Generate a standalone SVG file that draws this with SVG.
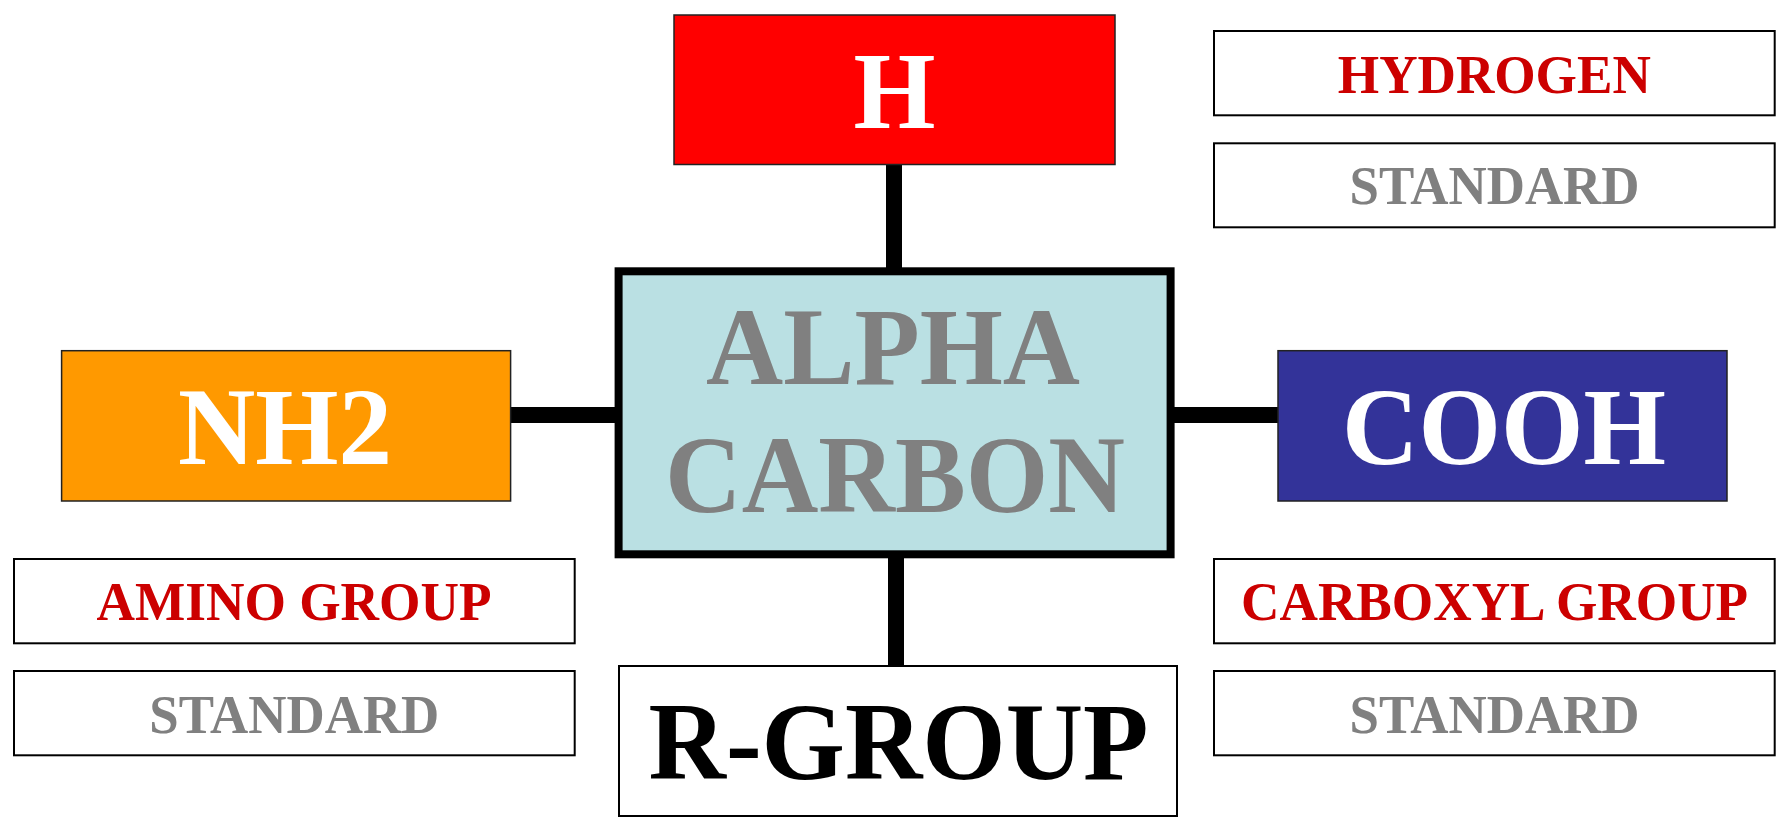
<svg xmlns="http://www.w3.org/2000/svg" width="1787" height="822" viewBox="0 0 1787 822">
<style>
text{font-family:"Liberation Serif","Times New Roman",serif;font-weight:bold;text-anchor:middle}
.big{font-size:111px}
.small{font-size:55px}
.red{fill:#CC0000}
.grey{fill:#808080}
.white{fill:#FFFFFF}
.lbl{fill:#FFFFFF;stroke:#000;stroke-width:2}
.conn{stroke:#000;stroke-width:16;fill:none}
</style>
<rect width="1787" height="822" fill="#FFFFFF"/>
<g id="connectors">
<line class="conn" x1="894" y1="164" x2="894" y2="272"/>
<line class="conn" x1="896" y1="554" x2="896" y2="666"/>
<line class="conn" x1="510" y1="415" x2="619" y2="415"/>
<line class="conn" x1="1170" y1="415" x2="1278" y2="415"/>
</g>
<g id="node-h">
<rect x="674" y="15" width="441" height="149.5" fill="#FF0000" stroke="#222" stroke-width="1.5"/>
<text class="big white" x="894.5" y="127.5" textLength="82" lengthAdjust="spacingAndGlyphs">H</text>
</g>
<g id="node-alpha">
<rect x="618.6" y="271.3" width="552" height="283" fill="#BAE0E3" stroke="#000" stroke-width="8"/>
<text class="big grey" x="893" y="384" textLength="374" lengthAdjust="spacingAndGlyphs">ALPHA</text>
<text class="big grey" x="895" y="512" textLength="460" lengthAdjust="spacingAndGlyphs">CARBON</text>
</g>
<g id="node-nh2">
<rect x="61.6" y="350.7" width="449" height="150.3" fill="#FF9900" stroke="#222" stroke-width="1.5"/>
<text class="big white" x="285" y="464" textLength="214" lengthAdjust="spacingAndGlyphs">NH2</text>
</g>
<g id="node-cooh">
<rect x="1278" y="350.7" width="449" height="150.3" fill="#333399" stroke="#222" stroke-width="1.5"/>
<text class="big white" x="1504" y="464" textLength="324" lengthAdjust="spacingAndGlyphs">COOH</text>
</g>
<g id="node-rgroup">
<rect x="619" y="666" width="558" height="150" fill="#FFFFFF" stroke="#000" stroke-width="2"/>
<text class="big" x="898.5" y="779" fill="#000" textLength="500" lengthAdjust="spacingAndGlyphs">R-GROUP</text>
</g>
<g id="label-hydrogen">
<rect class="lbl" x="1214" y="31" width="560.7" height="84.3"/>
<text class="small red" x="1494.3" y="92.7" textLength="313" lengthAdjust="spacingAndGlyphs">HYDROGEN</text>
</g>
<g id="label-standard-top">
<rect class="lbl" x="1214" y="143.3" width="560.7" height="84"/>
<text class="small grey" x="1494.5" y="204" textLength="290" lengthAdjust="spacingAndGlyphs">STANDARD</text>
</g>
<g id="label-amino">
<rect class="lbl" x="14" y="559" width="560.7" height="84.3"/>
<text class="small red" x="294" y="620" textLength="395" lengthAdjust="spacingAndGlyphs">AMINO GROUP</text>
</g>
<g id="label-standard-left">
<rect class="lbl" x="14" y="671" width="560.7" height="84.3"/>
<text class="small grey" x="294.3" y="732.7" textLength="290" lengthAdjust="spacingAndGlyphs">STANDARD</text>
</g>
<g id="label-carboxyl">
<rect class="lbl" x="1214" y="559" width="560.7" height="84.3"/>
<text class="small red" x="1494.6" y="620" textLength="507" lengthAdjust="spacingAndGlyphs">CARBOXYL GROUP</text>
</g>
<g id="label-standard-right">
<rect class="lbl" x="1214" y="671" width="560.7" height="84.3"/>
<text class="small grey" x="1494.5" y="732.7" textLength="290" lengthAdjust="spacingAndGlyphs">STANDARD</text>
</g>
</svg>
